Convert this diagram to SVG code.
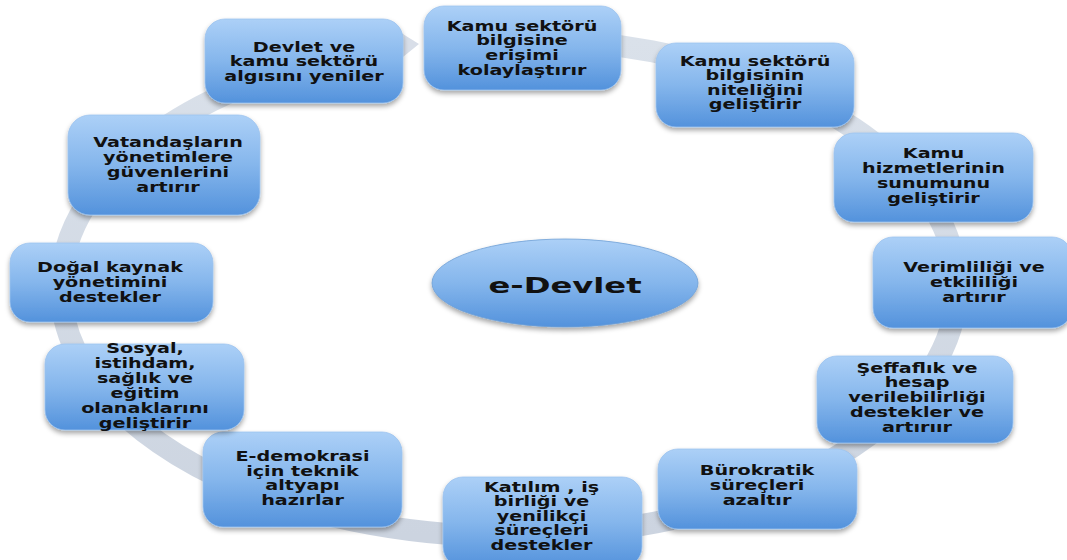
<svg xmlns="http://www.w3.org/2000/svg" width="1067" height="560" viewBox="0 0 1067 560">
<defs>
<linearGradient id="gBox" x1="0" y1="0" x2="0" y2="1">
<stop offset="0" stop-color="#acd0f7"/>
<stop offset="0.5" stop-color="#85b6ec"/>
<stop offset="1" stop-color="#5392dc"/>
</linearGradient>
<linearGradient id="gRing" x1="0" y1="0" x2="0" y2="1">
<stop offset="0" stop-color="#dae1ea"/>
<stop offset="1" stop-color="#ccd4e0"/>
</linearGradient>
<filter id="sh" x="-10%" y="-10%" width="120%" height="130%">
<feDropShadow dx="0" dy="3" stdDeviation="2.5" flood-color="#000" flood-opacity="0.35"/>
</filter>
<style>
.box{fill:url(#gBox);stroke:#9cc3ef;stroke-width:0.8;filter:url(#sh)}
.t{font-family:"DejaVu Sans",Verdana,sans-serif;font-weight:bold;font-size:13.6px;text-anchor:middle;fill:#111}
.tc{font-family:"DejaVu Sans",Verdana,sans-serif;font-weight:bold;font-size:21.5px;text-anchor:middle;fill:#111}
.ring{fill:none;stroke:url(#gRing);stroke-width:22}
</style>
</defs>
<rect width="1067" height="560" fill="#fff"/>
<g id="connectors">
<path class="ring" d="M440,41.1 A448,249 0 1 1 400,45.6"/>
<polygon points="398,31 419,44 398,61" fill="#d8dee8"/>
</g>
<g id="center">
<ellipse cx="565" cy="283" rx="133" ry="44" class="box" style="stroke:#6f9fd6"/>
<g transform="translate(565,0) scale(1.5,1)"><text class="tc" x="0" y="293">e-Devlet</text></g>
</g>
<g id="n1">
<rect x="424" y="6" width="197" height="84" rx="20" class="box"/>
<g transform="translate(522,0) scale(1.41,1)"><text class="t"><tspan x="0" y="31">Kamu sektörü</tspan><tspan x="0" y="45.5">bilgisine</tspan><tspan x="0" y="60">erişimi</tspan><tspan x="0" y="75">kolaylaştırır</tspan></text></g>
</g>
<g id="n2">
<rect x="205" y="19" width="198" height="84" rx="20" class="box"/>
<g transform="translate(304,0) scale(1.41,1)"><text class="t"><tspan x="0" y="52">Devlet ve</tspan><tspan x="0" y="66.5">kamu sektörü</tspan><tspan x="0" y="81">algısını yeniler</tspan></text></g>
</g>
<g id="n3">
<rect x="656" y="43" width="198" height="84" rx="20" class="box"/>
<g transform="translate(755,0) scale(1.41,1)"><text class="t"><tspan x="0" y="66">Kamu sektörü</tspan><tspan x="0" y="80.5">bilgisinin</tspan><tspan x="0" y="95">niteliğini</tspan><tspan x="0" y="109.5">geliştirir</tspan></text></g>
</g>
<g id="n4">
<rect x="834" y="133" width="199" height="89" rx="20" class="box"/>
<g transform="translate(933.5,0) scale(1.41,1)"><text class="t"><tspan x="0" y="158">Kamu</tspan><tspan x="0" y="173">hizmetlerinin</tspan><tspan x="0" y="188">sunumunu</tspan><tspan x="0" y="203">geliştirir</tspan></text></g>
</g>
<g id="n5">
<rect x="873" y="237" width="199" height="91" rx="20" class="box"/>
<g transform="translate(974,0) scale(1.41,1)"><text class="t"><tspan x="0" y="272">Verimliliği ve</tspan><tspan x="0" y="287">etkililiği</tspan><tspan x="0" y="302">artırır</tspan></text></g>
</g>
<g id="n6">
<rect x="817" y="356" width="196" height="87" rx="20" class="box"/>
<g transform="translate(917,0) scale(1.41,1)"><text class="t"><tspan x="0" y="373">Şeffaflık ve</tspan><tspan x="0" y="387.5">hesap</tspan><tspan x="0" y="402">verilebilirliği</tspan><tspan x="0" y="417">destekler ve</tspan><tspan x="0" y="432">artırıır</tspan></text></g>
</g>
<g id="n7">
<rect x="658" y="449" width="199" height="80" rx="20" class="box"/>
<g transform="translate(757,0) scale(1.41,1)"><text class="t"><tspan x="0" y="475">Bürokratik</tspan><tspan x="0" y="490">süreçleri</tspan><tspan x="0" y="505">azaltır</tspan></text></g>
</g>
<g id="n8">
<rect x="443" y="477" width="199" height="90" rx="20" class="box"/>
<g transform="translate(541.5,0) scale(1.41,1)"><text class="t"><tspan x="0" y="492">Katılım , iş</tspan><tspan x="0" y="506.5">birliği ve</tspan><tspan x="0" y="521">yenilikçi</tspan><tspan x="0" y="535.5">süreçleri</tspan><tspan x="0" y="550">destekler</tspan></text></g>
</g>
<g id="n9">
<rect x="203" y="432" width="199" height="95" rx="20" class="box"/>
<g transform="translate(302.5,0) scale(1.41,1)"><text class="t"><tspan x="0" y="461">E-demokrasi</tspan><tspan x="0" y="476">için teknik</tspan><tspan x="0" y="490.5">altyapı</tspan><tspan x="0" y="505">hazırlar</tspan></text></g>
</g>
<g id="n10">
<rect x="45" y="344" width="199" height="86" rx="20" class="box"/>
<g transform="translate(145,0) scale(1.41,1)"><text class="t"><tspan x="0" y="353">Sosyal,</tspan><tspan x="0" y="368">istihdam,</tspan><tspan x="0" y="383">sağlık ve</tspan><tspan x="0" y="398">eğitim</tspan><tspan x="0" y="413">olanaklarını</tspan><tspan x="0" y="428">geliştirir</tspan></text></g>
</g>
<g id="n11">
<rect x="10" y="243" width="203" height="79" rx="20" class="box"/>
<g transform="translate(110,0) scale(1.41,1)"><text class="t"><tspan x="0" y="272">Doğal kaynak</tspan><tspan x="0" y="287">yönetimini</tspan><tspan x="0" y="302">destekler</tspan></text></g>
</g>
<g id="n12">
<rect x="68" y="115" width="192" height="100" rx="22" class="box"/>
<g transform="translate(168,0) scale(1.41,1)"><text class="t"><tspan x="0" y="147">Vatandaşların</tspan><tspan x="0" y="162">yönetimlere</tspan><tspan x="0" y="177">güvenlerini</tspan><tspan x="0" y="192">artırır</tspan></text></g>
</g>
</svg>
